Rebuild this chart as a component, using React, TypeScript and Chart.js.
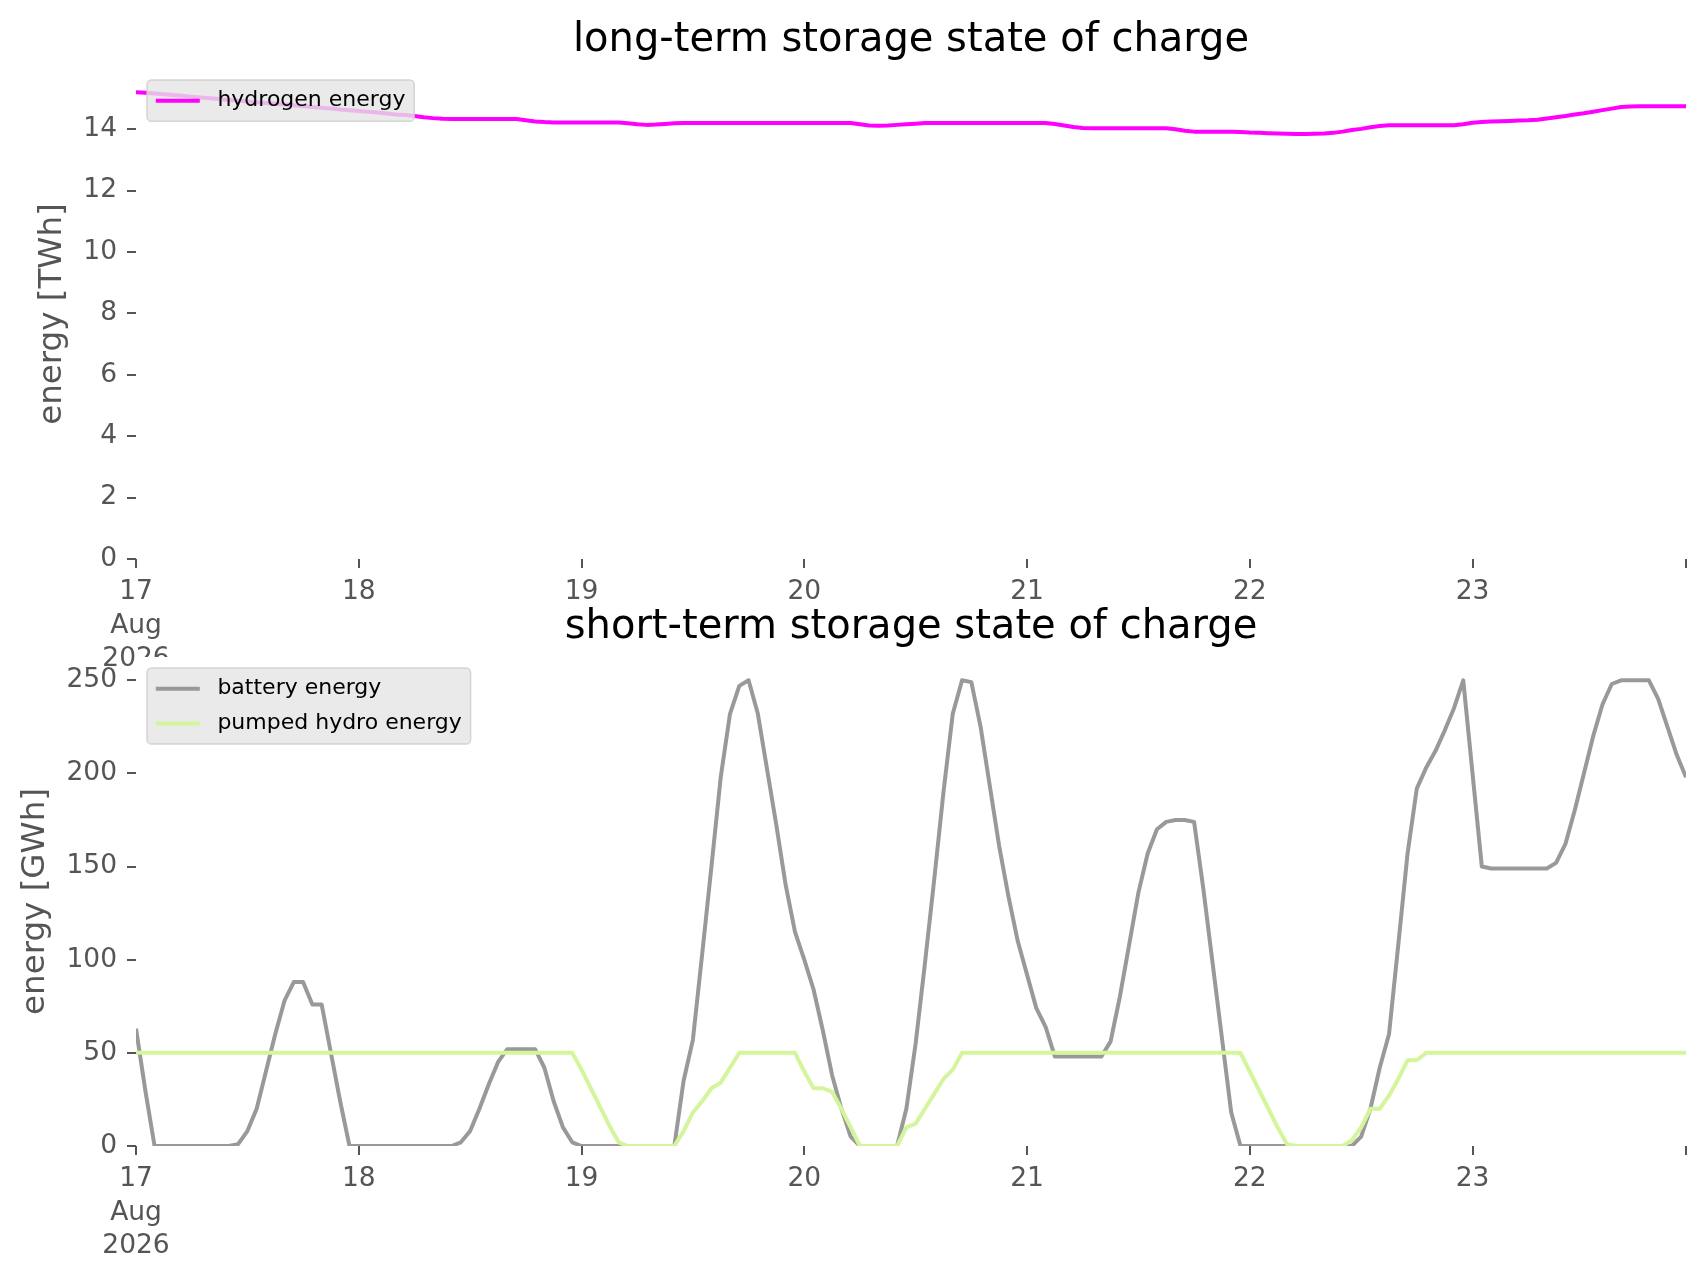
import { useEffect, useRef } from "react";
import { Chart, registerables } from "chart.js";

Chart.register(...registerables);

const FONT = "'DejaVu Sans', 'Liberation Sans', sans-serif";
const GREY = "#555555";
Chart.defaults.font.family = FONT;

// x axis: hourly snapshots, hours since 17 Aug 2026 00:00
const hours = Array.from({ length: 168 }, (_, i) => i);
const dayTickHours = [0, 24, 48, 72, 96, 120, 144];
const dayTickLabels = ["17", "18", "19", "20", "21", "22", "23"];
const firstTickSubLabels = ["Aug", "2026"];
const lastHour = 167;

const twhTicks = [0, 2, 4, 6, 8, 10, 12, 14];
const gwhTicks = [0, 50, 100, 150, 200, 250];

// long-term storage [TWh], one row per day
const hydrogenEnergy = [
  15.2, 15.19, 15.16, 15.14, 15.11, 15.09, 15.06, 15.03, 15.01, 14.98, 14.95, 14.93,
  14.9, 14.88, 14.85, 14.83, 14.8, 14.78, 14.75, 14.72, 14.7, 14.67, 14.64, 14.62,
  14.59, 14.57, 14.54, 14.51, 14.48, 14.46, 14.43, 14.39, 14.36, 14.34, 14.33, 14.33,
  14.33, 14.33, 14.33, 14.33, 14.33, 14.33, 14.29, 14.25, 14.23, 14.22, 14.22, 14.22,
  14.22, 14.22, 14.22, 14.22, 14.22, 14.19, 14.16, 14.14, 14.15, 14.17, 14.19, 14.2,
  14.2, 14.2, 14.2, 14.2, 14.2, 14.2, 14.2, 14.2, 14.2, 14.2, 14.2, 14.2,
  14.2, 14.2, 14.2, 14.2, 14.2, 14.2, 14.16, 14.12, 14.11, 14.12, 14.14, 14.16,
  14.18, 14.2, 14.2, 14.2, 14.2, 14.2, 14.2, 14.2, 14.2, 14.2, 14.2, 14.2,
  14.2, 14.2, 14.2, 14.17, 14.12, 14.07, 14.04, 14.03, 14.03, 14.03, 14.03, 14.03,
  14.03, 14.03, 14.03, 14.03, 14.0, 13.95, 13.92, 13.92, 13.92, 13.92, 13.92, 13.91,
  13.89, 13.88, 13.87, 13.86, 13.85, 13.84, 13.84, 13.85, 13.86, 13.88, 13.92, 13.97,
  14.01, 14.06, 14.1, 14.13, 14.13, 14.13, 14.13, 14.13, 14.13, 14.13, 14.13, 14.16,
  14.21, 14.23, 14.25, 14.26, 14.27, 14.28, 14.29, 14.31, 14.35, 14.39, 14.43, 14.48,
  14.52, 14.57, 14.62, 14.67, 14.72, 14.74, 14.75, 14.75, 14.75, 14.75, 14.75, 14.75,
];

// short-term storage [GWh], one row per day
const batteryEnergy = [
  63, 30, 0, 0, 0, 0, 0, 0, 0, 0, 0, 1, 8, 20, 40, 60, 78, 88, 88, 76, 76, 50, 24, 0,
  0, 0, 0, 0, 0, 0, 0, 0, 0, 0, 0, 2, 8, 20, 33, 45, 52, 52, 52, 52, 42, 24, 10, 2,
  0, 0, 0, 0, 0, 0, 0, 0, 0, 0, 0, 35, 57, 103, 150, 198, 232, 247, 250, 232, 202, 172, 140, 115,
  100, 84, 62, 38, 20, 5, 0, 0, 0, 0, 0, 20, 55, 98, 143, 190, 232, 250, 249, 225, 193, 161, 134, 110,
  92, 74, 64, 48, 48, 48, 48, 48, 48, 56, 80, 108, 136, 157, 170, 174, 175, 175, 174, 138, 98, 58, 18, 0,
  0, 0, 0, 0, 0, 0, 0, 0, 0, 0, 0, 0, 5, 20, 42, 60, 108, 157, 192, 203, 212, 223, 235, 250,
  200, 150, 149, 149, 149, 149, 149, 149, 149, 152, 162, 180, 200, 220, 237, 248, 250, 250, 250, 250, 240, 225, 210, 198,
];

const pumpedHydroEnergy = [
  50, 50, 50, 50, 50, 50, 50, 50, 50, 50, 50, 50, 50, 50, 50, 50, 50, 50, 50, 50, 50, 50, 50, 50,
  50, 50, 50, 50, 50, 50, 50, 50, 50, 50, 50, 50, 50, 50, 50, 50, 50, 50, 50, 50, 50, 50, 50, 50,
  41, 31, 21, 11, 2, 0, 0, 0, 0, 0, 0, 8, 18, 24, 31, 34, 42, 50, 50, 50, 50, 50, 50, 50,
  40, 31, 31, 29, 20, 10, 0, 0, 0, 0, 0, 10, 12, 20, 28, 36, 41, 50, 50, 50, 50, 50, 50, 50,
  50, 50, 50, 50, 50, 50, 50, 50, 50, 50, 50, 50, 50, 50, 50, 50, 50, 50, 50, 50, 50, 50, 50, 50,
  40, 30, 20, 10, 1, 0, 0, 0, 0, 0, 0, 3, 10, 20, 20, 27, 36, 46, 46, 50, 50, 50, 50, 50,
  50, 50, 50, 50, 50, 50, 50, 50, 50, 50, 50, 50, 50, 50, 50, 50, 50, 50, 50, 50, 50, 50, 50, 50,
];

const AREA_LEFT = 136;
const RIGHT_PAD = 20;

// matplotlib-like extras: white axes patch, title over the axes, semi-transparent legend inside
const mplDecor = {
  id: "mplDecor",
  beforeDraw(chart: any) {
    const { ctx, chartArea: a } = chart;
    ctx.save();
    ctx.fillStyle = "#ffffff";
    ctx.fillRect(a.left, a.top, a.right - a.left, a.bottom - a.top);
    ctx.restore();
  },
  afterDraw(chart: any, _args: any, opts: any) {
    const { ctx, chartArea: a } = chart;
    ctx.save();
    ctx.font = `40px ${FONT}`;
    ctx.fillStyle = "#000000";
    ctx.textAlign = "center";
    ctx.textBaseline = "alphabetic";
    ctx.fillText(opts.title, (a.left + a.right) / 2, a.top - opts.titlePad);

    const fs = 22;
    const rowH = fs * 1.08;
    const sets = chart.data.datasets;
    ctx.font = `${fs}px ${FONT}`;
    const textW = Math.max(...sets.map((d: any) => ctx.measureText(d.label).width));
    const x0 = a.left + 0.5 * fs;
    const y0 = a.top + 0.5 * fs;
    const w = 0.4 * fs + 2 * fs + 0.8 * fs + textW + 0.4 * fs;
    const h = 0.8 * fs + sets.length * rowH + (sets.length - 1) * 0.5 * fs;
    ctx.beginPath();
    ctx.roundRect(x0, y0, w, h, 0.2 * fs);
    ctx.fillStyle = "rgba(229,229,229,0.8)";
    ctx.fill();
    ctx.lineWidth = 1.5;
    ctx.strokeStyle = "rgba(204,204,204,0.8)";
    ctx.stroke();
    sets.forEach((d: any, i: number) => {
      const cy = y0 + 0.4 * fs + rowH / 2 + i * (rowH + 0.5 * fs);
      ctx.beginPath();
      ctx.moveTo(x0 + 0.4 * fs, cy);
      ctx.lineTo(x0 + 2.4 * fs, cy);
      ctx.strokeStyle = d.borderColor;
      ctx.lineWidth = d.borderWidth;
      ctx.stroke();
      ctx.fillStyle = "#000000";
      ctx.textAlign = "left";
      ctx.textBaseline = "middle";
      ctx.fillText(d.label, x0 + 3.2 * fs, cy);
    });
    ctx.restore();
  },
};

interface PanelProps {
  top: number;
  height: number;
  areaTop: number;
  areaBottom: number;
  title: string;
  titlePad: number;
  yTitle: string;
  yTitlePad: number;
  yTicks: number[];
  datasets: any[];
}

function Panel(p: PanelProps) {
  const canvasRef = useRef<HTMLCanvasElement | null>(null);

  useEffect(() => {
    if (!canvasRef.current) return;
    const tickGrid = {
      drawOnChartArea: false,
      drawTicks: true,
      tickLength: 9,
      tickWidth: 2,
      lineWidth: 2,
      tickColor: GREY,
    };
    const yMax = 1.05 * Math.max(...p.datasets.flatMap((d) => d.data));
    const chart = new Chart(canvasRef.current, {
      type: "line",
      data: { labels: hours, datasets: p.datasets },
      options: {
        responsive: true,
        maintainAspectRatio: false,
        animation: false,
        events: [],
        layout: { padding: { left: 0, right: RIGHT_PAD, top: p.areaTop, bottom: 0 } },
        elements: {
          point: { radius: 0 },
          line: { tension: 0, borderJoinStyle: "round" },
        },
        plugins: {
          legend: { display: false },
          tooltip: { enabled: false },
          mplDecor: { title: p.title, titlePad: p.titlePad },
        } as any,
        scales: {
          x: {
            type: "linear",
            min: 0,
            max: lastHour,
            afterBuildTicks: (s: any) => {
              s.ticks = [...dayTickHours, lastHour].map((value) => ({ value }));
            },
            afterFit: (s: any) => {
              s.height = p.height - p.areaBottom;
            },
            grid: tickGrid,
            border: { display: false },
            ticks: {
              autoSkip: false,
              maxRotation: 0,
              padding: 8,
              color: GREY,
              font: { size: 26.5, lineHeight: 1.25 },
              callback: (value: any) => {
                const i = dayTickHours.indexOf(Number(value));
                if (i === 0) return [dayTickLabels[0], ...firstTickSubLabels];
                return i > 0 ? dayTickLabels[i] : "";
              },
            },
          },
          y: {
            min: 0,
            max: yMax,
            afterBuildTicks: (s: any) => {
              s.ticks = p.yTicks.map((value) => ({ value }));
            },
            afterFit: (s: any) => {
              s.width = AREA_LEFT;
            },
            grid: tickGrid,
            border: { display: false },
            ticks: {
              padding: 10,
              color: GREY,
              font: { size: 26.5 },
              callback: (value: any) => String(value),
            },
            title: {
              display: true,
              text: p.yTitle,
              color: GREY,
              font: { size: 32.5, lineHeight: 1.2 },
              padding: { top: p.yTitlePad, bottom: 0 },
            },
          },
        },
      } as any,
      plugins: [mplDecor as any],
    });
    return () => chart.destroy();
  }, []);

  return (
    <div style={{ position: "absolute", left: 0, top: p.top, width: 1706, height: p.height }}>
      <canvas ref={canvasRef} />
    </div>
  );
}

export default function App() {
  return (
    <div style={{ position: "absolute", left: 0, top: 0, width: 1706, height: 1277, background: "#ffffff" }}>
      <Panel
        top={0}
        height={680}
        areaTop={69}
        areaBottom={559}
        title="long-term storage state of charge"
        titlePad={18}
        yTitle="energy [TWh]"
        yTitlePad={33}
        yTicks={twhTicks}
        datasets={[
          { label: "hydrogen energy", data: hydrogenEnergy, borderColor: "#ff00ff", borderWidth: 4 },
        ]}
      />
      <Panel
        top={580}
        height={697}
        areaTop={77}
        areaBottom={566}
        title="short-term storage state of charge"
        titlePad={19}
        yTitle="energy [GWh]"
        yTitlePad={16}
        yTicks={gwhTicks}
        datasets={[
          { label: "battery energy", data: batteryEnergy, borderColor: "#999999", borderWidth: 4, order: 1 },
          { label: "pumped hydro energy", data: pumpedHydroEnergy, borderColor: "#d4f59c", borderWidth: 4, order: 0 },
        ]}
      />
    </div>
  );
}
